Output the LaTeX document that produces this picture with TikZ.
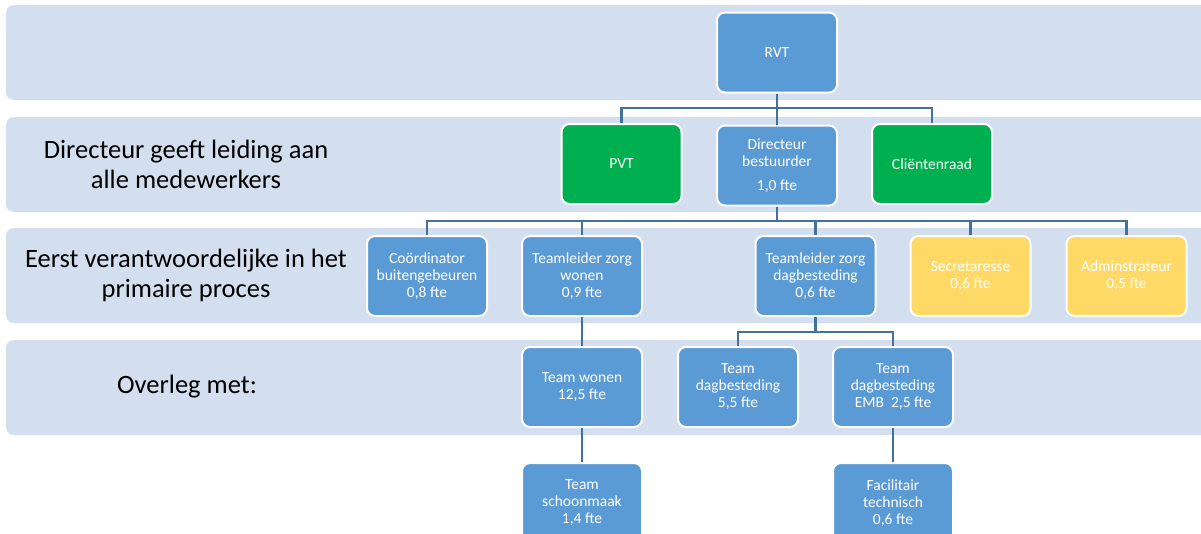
\documentclass[tikz,border=0pt]{standalone}
\usepackage{fontspec}
\setmainfont{Carlito}
\definecolor{bandc}{HTML}{D3DEEF}
\definecolor{boxc}{HTML}{5B9BD5}
\definecolor{greenc}{HTML}{00B050}
\definecolor{yellowc}{HTML}{FFD966}
\definecolor{linec}{HTML}{41719C}
\begin{document}
\begin{tikzpicture}[x=1pt,y=-1pt,
  band/.style={fill=bandc,rounded corners=8pt},
  box/.style={draw=white,line width=2pt,fill=boxc,rounded corners=8pt,
    minimum width=120pt,minimum height=80pt,inner sep=1pt,text=white,align=center,
    font=\fontsize{15.5}{17}\selectfont},
  gbox/.style={box,fill=greenc},
  ybox/.style={box,fill=yellowc},
  lbl/.style={align=center,font=\fontsize{26.5}{30}\selectfont,text=black},
  conn/.style={draw=linec,line width=2.5pt}]
\useasboundingbox (0,0) rectangle (1201,533);
\clip (0,0) rectangle (1201,533);
% bands
\fill[band] (6,5) rectangle (1220,100);
\fill[band] (6,117) rectangle (1220,212);
\fill[band] (6,228) rectangle (1220,323);
\fill[band] (6,340) rectangle (1220,435);
% left labels
\node[lbl] (l2) at (186,164.5) {Directeur geeft leiding aan\\alle medewerkers};
\node[lbl] (l3) at (186,275.5) {Eerst verantwoordelijke in het\\primaire proces};
\node[lbl] (l4) at (187,387) {Overleg met:};
% bus coordinates
\coordinate (b1) at (777,108);
\coordinate (b2) at (777,221);
\coordinate (b3) at (815.5,332);
% boxes
\node[box] (rvt) at (777,52.5) {RVT};
\node[gbox] (pvt) at (621.5,164) {PVT};
\node[box] (dir) at (777,165.5) {Directeur\\bestuurder\\[7pt]1,0 fte};
\node[gbox] (clr) at (932,164) {Cliëntenraad};
\node[box] (coo) at (427,276) {Coördinator\\buitengebeuren\\0,8 fte};
\node[box] (tlw) at (582,276) {Teamleider zorg\\wonen\\0,9 fte};
\node[box] (tld) at (815.5,276) {Teamleider zorg\\dagbesteding\\0,6 fte};
\node[ybox] (sec) at (970.5,276) {Secretaresse\\0,6 fte};
\node[ybox] (adm) at (1126.5,276) {Adminstrateur\\0,5 fte};
\node[box] (tw) at (582,387) {Team wonen\\12,5 fte};
\node[box] (td) at (738,387) {Team\\dagbesteding\\5,5 fte};
\node[box] (temb) at (893,387) {Team\\dagbesteding\\EMB~~2,5 fte};
\node[box] (tsch) at (582,503) {Team\\schoonmaak\\1,4 fte};
\node[box] (fac) at (893,503) {Facilitair\\technisch\\0,6 fte};
% connectors
\draw[conn] (rvt.south) -- (b1);
\draw[conn] (pvt.north) |- (b1) -| (clr.north);
\draw[conn] (b1) -- (dir.north);
\draw[conn] (dir.south) -- (b2);
\draw[conn] (coo.north) |- (b2) -| (adm.north);
\draw[conn] (tlw.north) -- (tlw.north |- b2);
\draw[conn] (tld.north) -- (tld.north |- b2);
\draw[conn] (sec.north) -- (sec.north |- b2);
\draw[conn] (tlw.south) -- (tw.north);
\draw[conn] (tld.south) -- (b3);
\draw[conn] (td.north) |- (b3) -| (temb.north);
\draw[conn] (tw.south) -- (tsch.north);
\draw[conn] (temb.south) -- (fac.north);
\end{tikzpicture}
\end{document}
